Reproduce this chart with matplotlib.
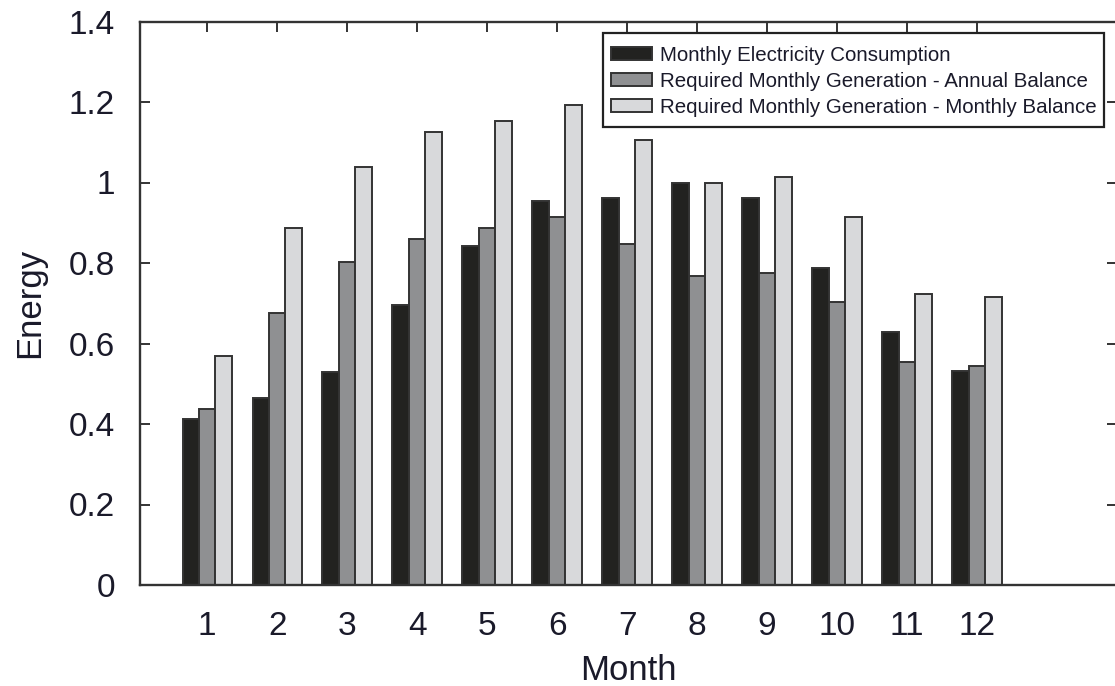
import matplotlib
matplotlib.use("Agg")
import matplotlib.pyplot as plt
from matplotlib.patches import Rectangle
from matplotlib.container import BarContainer
from matplotlib.legend_handler import HandlerPatch, update_from_first_child
import numpy as np

months = [1, 2, 3, 4, 5, 6, 7, 8, 9, 10, 11, 12]
consumption = [0.412, 0.464, 0.530, 0.696, 0.842, 0.955, 0.961, 1.000, 0.961, 0.788, 0.629, 0.532]
annual_balance = [0.437, 0.675, 0.802, 0.860, 0.888, 0.915, 0.847, 0.768, 0.774, 0.702, 0.555, 0.544]
monthly_balance = [0.569, 0.888, 1.039, 1.126, 1.153, 1.193, 1.106, 1.000, 1.013, 0.915, 0.722, 0.715]
series_labels = ["Monthly Electricity Consumption",
                 "Required Monthly Generation - Annual Balance",
                 "Required Monthly Generation - Monthly Balance"]
yticks = [0, 0.2, 0.4, 0.6, 0.8, 1.0, 1.2, 1.4]
ytick_labels = ["0", "0.2", "0.4", "0.6", "0.8", "1", "1.2", "1.4"]

plt.rcParams['font.family'] = ['Liberation Sans', 'DejaVu Sans']

W, H = 1115, 686
fig = plt.figure(figsize=(W / 100, H / 100), dpi=100)
left, right, top, bottom = 140, 1117, 21.5, 585
ax = fig.add_axes([left / W, 1 - bottom / H, (right - left) / W, (bottom - top) / H])

x = np.array(months, dtype=float)
bw = 0.235
colors = ["#222220", "#8f9092", "#d8d9db"]
edge = "#333333"
for i, (vals, c, lab) in enumerate(zip([consumption, annual_balance, monthly_balance], colors, series_labels)):
    ax.bar(x + (i - 1) * bw, vals, width=bw, color=c, edgecolor=edge, linewidth=1.4, label=lab, zorder=2)

ax.set_xlim(0.04, 14)
ax.set_ylim(0, 1.4)
ax.set_xticks(months)
ax.set_xticklabels([str(m) for m in months])
ax.set_yticks(yticks)
ax.set_yticklabels(ytick_labels)

for s in ax.spines.values():
    s.set_linewidth(1.7)
    s.set_color("#333333")
    s.set_zorder(3)

txt_color = "#1a1a2a"
ax.tick_params(axis='both', which='both', direction='in', length=7, width=1.4, color="#333333",
               top=True, right=True, labelsize=24, labelcolor=txt_color)
ax.tick_params(axis='y', pad=18)
ax.tick_params(axis='x', pad=19)

ax.set_xlabel("Month", fontsize=25, color=txt_color, labelpad=8)
ax.set_ylabel("Energy", fontsize=25, color=txt_color, labelpad=16)

leg_fs = 14.75
patch_h_pt = 13 * 72 / 100  # 13 px tall swatch


def small_patch(legend, orig_handle, xdescent, ydescent, width, height, fontsize):
    h = patch_h_pt
    return Rectangle(xy=(-xdescent, -ydescent + (height - h) / 2), width=width, height=h)


leg = ax.legend(loc='upper left', bbox_to_anchor=(603 / W, 1 - 33 / H), bbox_transform=fig.transFigure,
                fontsize=leg_fs, frameon=True, fancybox=False, framealpha=1, edgecolor="#222222",
                handlelength=2.0, handleheight=1.58, handletextpad=0.4, borderpad=0.38, labelspacing=0.0,
                borderaxespad=0,
                handler_map={BarContainer: HandlerPatch(patch_func=small_patch,
                                                        update_func=update_from_first_child)})
leg.get_frame().set_linewidth(1.6)
for t in leg.get_texts():
    t.set_color(txt_color)

fig.savefig("out.png", dpi=100)
